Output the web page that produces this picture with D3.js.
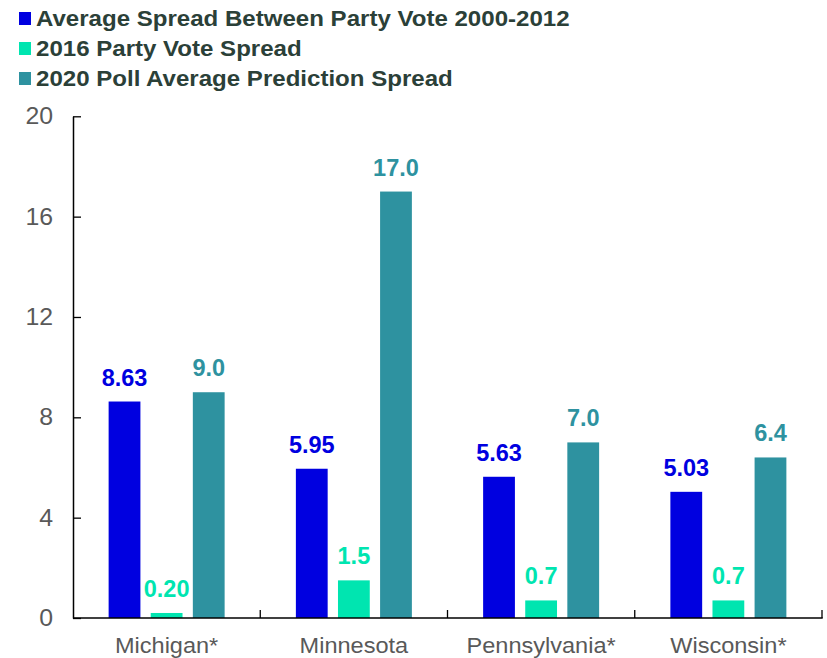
<!DOCTYPE html>
<html><head><meta charset="utf-8">
<script src="https://cdn.jsdelivr.net/npm/d3@7/dist/d3.min.js"></script>
<style>body{margin:0;background:#fff}svg{display:block;font-family:"Liberation Sans",Arial,sans-serif}</style>
</head><body>
<svg id="c" width="827" height="658"></svg>
<script>
const categories = ["Michigan*", "Minnesota", "Pennsylvania*", "Wisconsin*"];
const seriesNames = ["Average Spread Between Party Vote 2000-2012", "2016 Party Vote Spread", "2020 Poll Average Prediction Spread"];
const avgSpread = [8.63, 5.95, 5.63, 5.03];
const spread2016 = [0.2, 1.5, 0.7, 0.7];
const poll2020 = [9.0, 17.0, 7.0, 6.4];
const labels = [["8.63","5.95","5.63","5.03"],["0.20","1.5","0.7","0.7"],["9.0","17.0","7.0","6.4"]];
const yTicks = [0, 4, 8, 12, 16, 20];
const colors = ["#0000e0", "#00e5b0", "#2e92a0"];
const series = [avgSpread, spread2016, poll2020];

const svg = d3.select("#c");
const mLeft = 73, mRight = 822, mTop = 116.3, mBottom = 618;
const x = d3.scaleBand().domain(categories).range([mLeft, mRight]);
const y = d3.scaleLinear().domain([0, 20]).range([mBottom, mTop]);
const groupW = 116;
const inner = d3.scaleBand().domain([0,1,2]).range([0, groupW]).paddingInner(0.245);
const groupOffset = (x.bandwidth() - groupW) / 2;

// bars
series.forEach((vals, si) => {
  const g = svg.append("g");
  g.selectAll("rect").data(vals).join("rect")
    .attr("x", (d,i) => x(categories[i]) + groupOffset + inner(si))
    .attr("width", inner.bandwidth())
    .attr("y", d => y(d))
    .attr("height", d => y(0) - y(d))
    .attr("fill", colors[si]);
  g.selectAll("text").data(vals).join("text")
    .attr("x", (d,i) => x(categories[i]) + groupOffset + inner(si) + inner.bandwidth()/2)
    .attr("y", d => y(d) - 16)
    .attr("text-anchor", "middle")
    .attr("font-size", 23.5).attr("font-weight", "bold")
    .attr("fill", colors[si])
    .text((d,i) => labels[si][i]);
});

// y axis
const yAxis = d3.axisLeft(y).tickValues(yTicks).tickSizeInner(-8).tickSizeOuter(0).tickPadding(18.5);
const ya = svg.append("g").attr("transform", `translate(${mLeft},0)`).call(yAxis);
ya.select(".domain").attr("stroke", "#000").attr("stroke-width", 1.5);
ya.selectAll(".tick line").attr("stroke", "#000").attr("stroke-width", 1.3);
ya.selectAll("text").attr("font-size", 23).attr("fill", "#595959")
  .attr("font-family", "Liberation Sans, Arial, sans-serif")
  .attr("transform", "scale(1.08,1)");

// x axis
const xa = svg.append("g").attr("transform", `translate(0,${mBottom})`);
xa.append("line").attr("x1", mLeft).attr("x2", mRight + 0.7).attr("y1", 0).attr("y2", 0)
  .attr("stroke", "#000").attr("stroke-width", 1.5);
const bounds = categories.map(c => x(c) + x.bandwidth());
xa.selectAll("line.tk").data(bounds).join("line").attr("class","tk")
  .attr("x1", d => d).attr("x2", d => d).attr("y1", 0).attr("y2", -8)
  .attr("stroke", "#000").attr("stroke-width", 1.3);
xa.selectAll("g.lab").data(categories).join("g").attr("class","lab")
  .attr("transform", d => `translate(${x(d) + x.bandwidth()/2},35) scale(1.07,1)`)
  .append("text")
  .attr("text-anchor", "middle")
  .attr("font-size", 22).attr("fill", "#595959")
  .text(d => d);

// legend
const lg = svg.append("g");
seriesNames.forEach((n, i) => {
  const yy = 18.5 + i * 30;
  lg.append("rect").attr("x", 19).attr("y", yy - 6.5).attr("width", 12).attr("height", 13).attr("fill", colors[i]);
  lg.append("g").attr("transform", `translate(36,${yy + 7}) scale(1.094,1)`)
    .append("text").attr("font-size", 22).attr("font-weight", "bold")
    .attr("fill", "#2b4038").text(n);
});
</script>
</body></html>
